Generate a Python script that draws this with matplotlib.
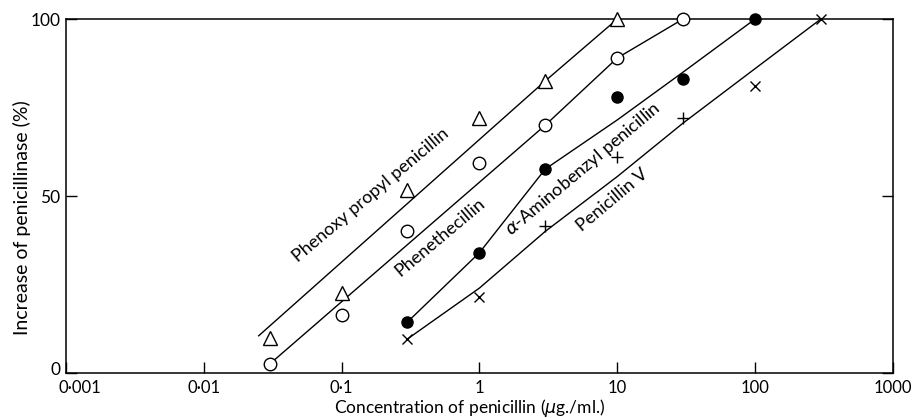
import matplotlib.pyplot as plt
import matplotlib.transforms as mtransforms
import numpy as np

plt.rcParams['font.family'] = ['Lato', 'DejaVu Sans']

# measured points
phenoxy_x = [0.03, 0.1, 0.3, 1, 3, 10]
phenoxy_y = [10, 22.6, 51.7, 72, 82.5, 100]

pheneth_x = [0.03, 0.1, 0.3, 1, 3, 10, 30]
pheneth_y = [2.5, 16.4, 40, 59.3, 70, 89, 100]

amino_x = [0.3, 1, 3, 10, 30, 100]
amino_y = [14.4, 34, 57.6, 78, 83, 100]

penv_x_cross = [0.3, 1, 100, 300]
penv_y_cross = [9.6, 21.5, 81, 100]
penv_x_plus = [3, 10, 30]
penv_y_plus = [41.5, 61, 72]

# drawn curves
phenoxy_line_x = [0.025, 3, 10]
phenoxy_line_y = [10.5, 82.5, 100]

pheneth_line_x = [0.03, 3, 10, 30]
pheneth_line_y = [2.5, 70, 89, 100]

amino_line_x = [0.3, 1, 3, 10, 30, 100]
amino_line_y = [14.4, 34, 57.6, 71.5, 85, 100]

penv_line_x = [0.3, 1, 3, 10, 30, 100, 300]
penv_line_y = [9.6, 24, 40, 55.5, 70.6, 86, 100]

xticks = [0.001, 0.01, 0.1, 1, 10, 100, 1000]
xticklabels = ['0·001', '0·01', '0·1', '1', '10', '100', '1000']

fig = plt.figure(figsize=(9.14, 4.18), dpi=100)
ax = fig.add_axes([0.0722, 0.1077, 0.9048, 0.8468])

lw = 1.0
ax.plot(phenoxy_line_x, phenoxy_line_y, color='black', lw=lw, zorder=1)
ax.plot(pheneth_line_x, pheneth_line_y, color='black', lw=lw, zorder=1)
ax.plot(amino_line_x, amino_line_y, color='black', lw=lw, zorder=1)
ax.plot(penv_line_x, penv_line_y, color='black', lw=lw, zorder=1)

ax.plot(phenoxy_x, phenoxy_y, linestyle='none', marker='^', markersize=10,
        markerfacecolor='white', markeredgecolor='black', markeredgewidth=1.0, zorder=3,
        clip_on=False)
ax.plot(pheneth_x, pheneth_y, linestyle='none', marker='o', markersize=9,
        markerfacecolor='white', markeredgecolor='black', markeredgewidth=1.0, zorder=3,
        clip_on=False)
ax.plot(amino_x, amino_y, linestyle='none', marker='o', markersize=8,
        markerfacecolor='black', markeredgecolor='black', zorder=3, clip_on=False)
ax.plot(penv_x_cross, penv_y_cross, linestyle='none', marker='x', markersize=7,
        color='black', markeredgewidth=1.0, zorder=3, clip_on=False)
ax.plot(penv_x_plus, penv_y_plus, linestyle='none', marker='+', markersize=9,
        color='black', markeredgewidth=1.0, zorder=3, clip_on=False)

ax.set_xscale('log')
ax.set_xlim(0.001, 1000)
ax.set_ylim(0, 100)
ax.set_xticks(xticks)
ax.set_xticklabels(xticklabels)
ax.minorticks_off()
ax.set_yticks([0, 50, 100])
ax.tick_params(axis='x', direction='in', length=8, width=1, labelsize=12, pad=5)
ax.tick_params(axis='y', direction='in', length=8, width=1, labelsize=12.5, right=True, pad=4)

# nudge the corner labels apart, as in the original print
lab0 = ax.get_xticklabels()[0]
lab0.set_transform(lab0.get_transform() +
                   mtransforms.ScaledTranslation(10 / 72, 0, fig.dpi_scale_trans))
ylab0 = ax.get_yticklabels()[0]
ylab0.set_transform(ylab0.get_transform() +
                    mtransforms.ScaledTranslation(0, 3 / 72, fig.dpi_scale_trans))

for s in ax.spines.values():
    s.set_linewidth(1.1)

ax.set_xlabel('Concentration of penicillin ($\\mu$g./ml.)', fontsize=12.5)
ax.xaxis.set_label_coords(0.4885, -0.068)
ax.set_ylabel('Increase of penicillinase (%)', fontsize=14)
ax.yaxis.set_label_coords(-0.042, 0.44)

txt = dict(rotation=40, rotation_mode='anchor', ha='center', va='center', fontsize=13)
ax.text(0.162, 50.3, 'Phenoxy propyl penicillin', **txt)
ax.text(0.513, 38.4, 'Phenethecillin', **txt)
ax.text(5.58, 57.6, '$\\alpha$-Aminobenzyl penicillin', **txt)
ax.text(9.2, 48.9, 'Penicillin V', **txt)

fig.savefig('out.png', dpi=100)
